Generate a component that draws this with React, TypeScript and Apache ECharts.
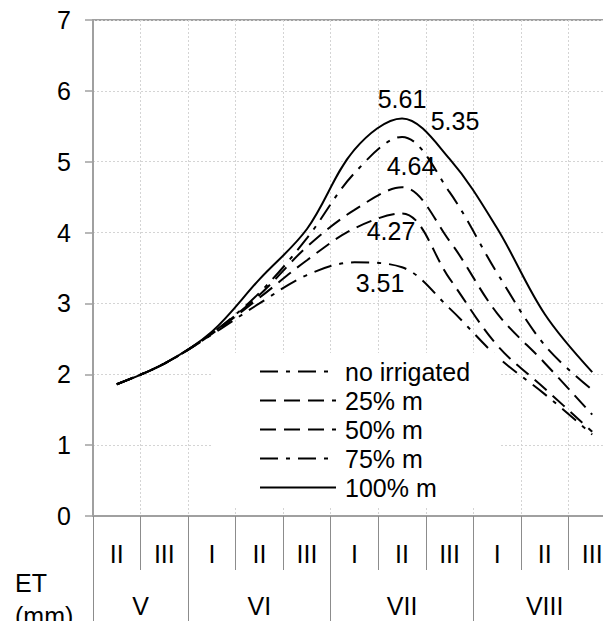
import { useEffect, useRef } from "react";
import * as echarts from "echarts";

// Ten-day periods (decades) of the growing season, May – August
const decades = ["II", "III", "I", "II", "III", "I", "II", "III", "I", "II", "III"];
// Month names and their positions on a half-decade scale (0..22)
const months = ["V", "VI", "VII", "VIII"];
const monthCenters = [2, 7, 13, 19];
const monthBounds = [0, 4, 10, 16, 22];

const seriesNames = ["no irrigated", "25% m", "50% m", "75% m", "100% m"];

// Daily evapotranspiration, mm
const noIrrigated = [1.86, 2.15, 2.56, 3.0, 3.4, 3.58, 3.51, 2.93, 2.25, 1.72, 1.15];
const m25 = [1.86, 2.15, 2.57, 3.08, 3.61, 4.06, 4.27, 3.35, 2.41, 1.8, 1.19];
const m50 = [1.86, 2.15, 2.58, 3.12, 3.8, 4.32, 4.64, 3.88, 2.86, 2.16, 1.43];
const m75 = [1.86, 2.15, 2.58, 3.15, 3.92, 4.84, 5.35, 4.57, 3.43, 2.41, 1.78];
const m100 = [1.86, 2.15, 2.6, 3.34, 4.05, 5.17, 5.61, 5.04, 4.06, 2.85, 2.03];

const yTicks = [0, 1, 2, 3, 4, 5, 6, 7];

const FONT = "'Liberation Sans', Arial, sans-serif";
const AXIS_GREY = "#a0a0a0";
const GRID_GREY = "#d4d4d4";

const dashDot = [18, 8, 4, 8];
const dashed = [16, 8];

const styles = [
  { type: dashDot, peakLabel: { position: "bottom", offset: [-22, -2] } },
  { type: dashed, peakLabel: { position: "bottom", offset: [-11, 0] } },
  { type: dashed, peakLabel: { position: "top", offset: [9, -4] } },
  { type: dashDot, peakLabel: { position: "top", offset: [53, 2] } },
  { type: "solid", peakLabel: { position: "top", offset: [0, -2] } },
];

const allValues = [noIrrigated, m25, m50, m75, m100];
const PEAK = 6;

export default function App() {
  const ref = useRef<HTMLDivElement>(null);

  useEffect(() => {
    if (!ref.current) return;
    const chart = echarts.init(ref.current, null, { renderer: "svg" });

    const monthAxisData: string[] = Array.from({ length: 23 }, () => "");
    monthCenters.forEach((pos, i) => {
      monthAxisData[pos] = months[i];
    });

    const series = allValues.map((vals, si) => ({
      name: seriesNames[si],
      type: "line",
      smooth: 0.35,
      symbol: "circle",
      symbolSize: 0,
      showSymbol: true,
      xAxisIndex: 0,
      yAxisIndex: 0,
      itemStyle: { color: "#000" },
      lineStyle: { color: "#000", width: 2, type: styles[si].type },
      label: { show: false },
      data: vals.map((v, i) =>
        i === PEAK
          ? {
              value: v,
              label: {
                show: true,
                formatter: v.toFixed(2),
                position: styles[si].peakLabel.position,
                offset: styles[si].peakLabel.offset,
                fontSize: 25,
                fontFamily: FONT,
                color: "#000",
                distance: 5,
              },
            }
          : v
      ),
    }));

    chart.setOption({
      animation: false,
      backgroundColor: "#fff",
      grid: {
        left: 93,
        top: 20,
        right: -13,
        bottom: 105,
        outerBoundsMode: "none",
        containLabel: false,
        show: true,
        borderColor: AXIS_GREY,
        borderWidth: 2,
        backgroundColor: "transparent",
      },
      legend: {
        orient: "vertical",
        left: 213,
        top: 353,
        data: seriesNames,
        itemWidth: 76,
        itemHeight: 14,
        itemGap: 4,
        padding: [6, 30, 6, 46],
        backgroundColor: "#fff",
        itemStyle: { opacity: 0 },
        textStyle: {
          fontSize: 25,
          fontFamily: FONT,
          color: "#000",
          padding: [0, 0, 0, 4],
        },
      },
      xAxis: [
        {
          type: "category",
          data: decades,
          boundaryGap: true,
          position: "bottom",
          axisLine: { show: true, lineStyle: { color: AXIS_GREY, width: 2 } },
          axisTick: { show: true, length: 54, lineStyle: { color: "#8c8c8c", width: 1 } },
          axisLabel: {
            interval: 0,
            margin: 25,
            fontSize: 25,
            fontFamily: FONT,
            color: "#000",
          },
          splitLine: {
            show: true,
            interval: 0,
            lineStyle: { color: GRID_GREY, type: [2, 2], width: 1 },
          },
        },
        {
          type: "category",
          data: monthAxisData,
          boundaryGap: false,
          position: "bottom",
          axisLine: { show: false },
          axisTick: {
            show: true,
            length: 110,
            interval: (idx: number) => monthBounds.includes(idx),
            lineStyle: { color: "#8c8c8c", width: 1 },
          },
          axisLabel: {
            interval: 0,
            margin: 77,
            fontSize: 25,
            fontFamily: FONT,
            color: "#000",
          },
          splitLine: { show: false },
        },
      ],
      yAxis: {
        type: "value",
        min: yTicks[0],
        max: yTicks[yTicks.length - 1],
        interval: 1,
        axisLine: { show: true, lineStyle: { color: AXIS_GREY, width: 2 } },
        axisTick: { show: true, length: 8, lineStyle: { color: AXIS_GREY, width: 1.5 } },
        axisLabel: {
          margin: 22,
          fontSize: 25,
          fontFamily: FONT,
          color: "#000",
        },
        splitLine: { show: true, lineStyle: { color: GRID_GREY, type: [2, 2], width: 1 } },
      },
      graphic: [
        {
          type: "text",
          left: 15,
          top: 566,
          style: {
            text: "ET\n(mm)",
            fontSize: 25,
            fontFamily: FONT,
            fill: "#000",
            lineHeight: 33,
          },
        },
      ],
      series,
    });

    return () => chart.dispose();
  }, []);

  return (
    <div
      ref={ref}
      style={{ position: "fixed", left: 0, top: 0, width: 603, height: 621 }}
    />
  );
}
